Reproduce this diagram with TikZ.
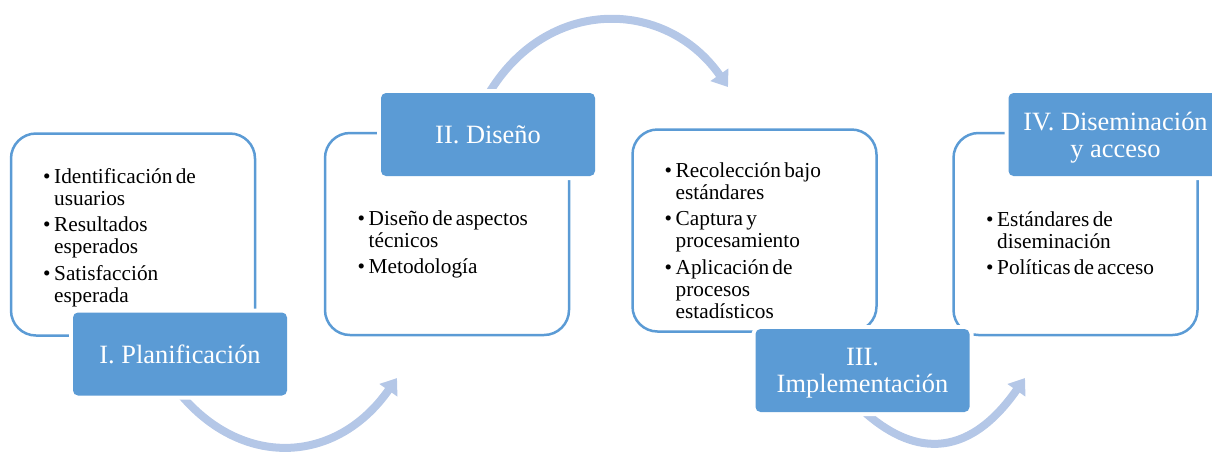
\documentclass[tikz,border=0pt]{standalone}
\usepackage{fontspec}
\setmainfont{Liberation Serif}
\usetikzlibrary{arrows.meta,backgrounds}
\definecolor{stageblue}{HTML}{5B9BD5}
\definecolor{arrowblue}{HTML}{B4C7E7}
\newcommand\bul{\noindent\hangindent=11pt\hangafter=1\makebox[11pt][l]{•}}
\newcommand\listsetup{\fontsize{21.3pt}{22pt}\selectfont\setlength\parskip{4.5pt}}
\tikzset{
  stagebox/.style={draw=stageblue, line width=2.5pt, fill=white, rounded corners=25pt,
    minimum width=244pt, minimum height=202pt, inner sep=0pt},
  stagelabel/.style={fill=stageblue, rounded corners=5pt,
    preaction={draw=white, line width=8pt, rounded corners=5pt},
    text=white, minimum width=214pt, minimum height=83pt, inner sep=0pt, align=center,
    text depth=0pt, font=\fontsize{26.4pt}{27pt}\selectfont},
  bullets/.style={anchor=base west, text width=230pt, inner sep=0pt},
  flowarrow/.style={draw=arrowblue, line width=8pt, -{Triangle[length=15pt,width=21pt]}},
}
\begin{document}
\begin{tikzpicture}[x=1pt,y=1pt]
\useasboundingbox (0,0) rectangle (1212,-451);
% content boxes
\node[stagebox] (B1) at (133,-234.5) {};
\node[stagebox] (B2) at (447,-234) {};
\node[stagebox] (B3) at (754.5,-230.5) {};
\node[stagebox] (B4) at (1075.5,-234) {};
% bullet texts
\node[bullets] (T1) at (43,-183) {\listsetup\bul Identificación de\newline usuarios\par
  \bul Resultados\newline esperados\par
  \bul Satisfacción\newline esperada\par};
\node[bullets] (T2) at (357.5,-225) {\listsetup\bul Diseño de aspectos\newline técnicos\par
  \bul Metodología\par};
\node[bullets] (T3) at (664.5,-177) {\listsetup\bul Recolección bajo\newline estándares\par
  \bul Captura y\newline procesamiento\par
  \bul Aplicación de\newline procesos\newline estadísticos\par};
\node[bullets] (T4) at (986,-226) {\listsetup\bul Estándares de\newline diseminación\par
  \bul Políticas de acceso\par};
% stage labels
\node[stagelabel] (L1) at (180,-354) {I. Planificación};
\node[stagelabel] (L2) at (488,-134.5) {II. Diseño};
\node[stagelabel] (L3) at (862.5,-370.5) {III.\\Implementación};
\node[stagelabel] (L4) at (1115.5,-134.5) {IV. Diseminación\\y acceso};
% arrow ends
\coordinate (E1) at (397,-378);
\coordinate (E2) at (728,-87);
\coordinate (E3) at (1025,-378);
\begin{pgfonlayer}{background}
\draw[flowarrow] ([yshift=2pt]L1.south) .. controls (242,-468.2) and (336,-465) .. (E1);
\draw[flowarrow] ([yshift=-2pt]L2.north) .. controls (546.7,4.5) and (665.7,1.9) .. (E2);
\draw[flowarrow] ([yshift=2pt]L3.south) .. controls (910.7,-454.4) and (966,-462.3) .. (E3);
\end{pgfonlayer}
\end{tikzpicture}
\end{document}
